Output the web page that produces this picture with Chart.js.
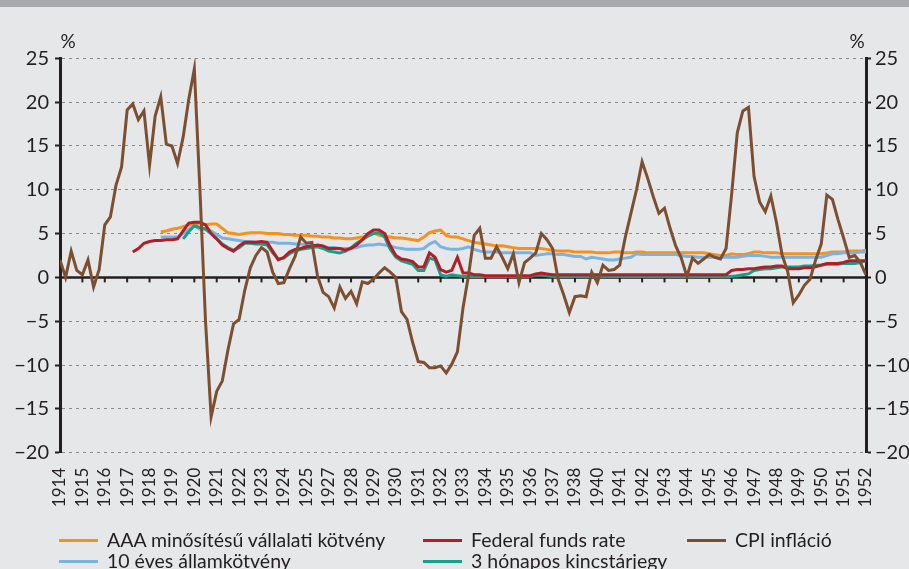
<!DOCTYPE html>
<html>
<head>
<meta charset="utf-8">
<script src="https://cdn.jsdelivr.net/npm/chart.js@4.4.1/dist/chart.umd.min.js"></script>
<style>
  html, body { margin:0; padding:0; background:#e6e7e8; }
  #wrap { position:relative; width:909px; height:569px; overflow:hidden; background:#e6e7e8; }
  #topbar { position:absolute; left:0; top:0; width:909px; height:7px; background:#a7a9ac; }
  canvas { position:absolute; left:0; top:0; }
  .pct { position:absolute; font:19px Lato, sans-serif; color:#231f20; width:30px; text-align:center; line-height:20px; }
  .leg { position:absolute; font:19.5px Lato, sans-serif; color:#231f20; white-space:nowrap; line-height:20px; height:20px; display:flex; align-items:center; }
  .leg i { display:inline-block; width:39px; height:3px; margin-right:9px; }
</style>
</head>
<body>
<div id="wrap">
  <div id="topbar"></div>
  <canvas id="c" width="909" height="569"></canvas>
  <div class="pct" style="left:53px; top:31px;">%</div>
  <div class="pct" style="left:842px; top:31px;">%</div>
  <div id="legend"></div>
</div>
<script>
// ---- tick labels (category labels on the horizontal axis) ----
const xLabels = ['1914','1915','1916','1917','1918','1919','1920','1921','1922','1923','1924','1925',
  '1927','1928','1929','1930','1931','1932','1933','1934','1935','1936','1937','1938',
  '1940','1941','1942','1943','1944','1945','1946','1947','1948','1949','1950','1951','1952'];
const yMin = -20, yMax = 25, yStep = 5;

// sampling step of the series, in axis-label units
const STEP = 0.25;

// ---- series values ----
const CPI_START = 0;
const cpi = [
  2.0, 0.0, 3.0, 0.8, 0.3, 2.0, -1.1, 0.9, 6.0, 6.9, 10.5,
  12.6, 19.1, 19.8, 18.0, 19.0, 12.8, 18.4, 20.6, 15.2, 15.0, 13.0,
  16.0, 20.3, 23.8, 10.0, -5.0, -15.9, -13.0, -11.8, -8.3, -5.3, -4.8,
  -1.5, 1.1, 2.5, 3.4, 2.9, 0.6, -0.7, -0.6, 1.0, 2.4, 4.6,
  3.9, 4.0, 0.2, -1.7, -2.2, -3.5, -1.1, -2.4, -1.6, -3.0, -0.5,
  -0.7, -0.2, 0.5, 1.1, 0.6, 0.0, -3.9, -4.8, -7.4, -9.6, -9.7,
  -10.3, -10.3, -10.1, -10.9, -9.9, -8.5, -3.5, 0.3, 4.8, 5.6, 2.2,
  2.2, 3.5, 2.3, 1.0, 2.7, -0.6, 1.7, 2.2, 2.8, 5.0, 4.3,
  3.3, -0.2, -2.0, -4.0, -2.2, -2.1, -2.2, 0.6, -0.6, 1.4, 0.8,
  0.9, 1.4, 4.6, 7.3, 10.0, 13.2, 11.3, 9.2, 7.3, 7.9, 5.6,
  3.6, 2.2, 0.1, 2.2, 1.6, 2.1, 2.6, 2.3, 2.1, 3.3, 9.5,
  16.5, 19.0, 19.4, 11.5, 8.6, 7.5, 9.3, 6.3, 2.6, 0.7, -2.9,
  -2.0, -0.9, -0.2, 2.0, 3.8, 9.4, 8.9, 6.6, 4.5, 2.3, 2.5,
  1.7, 0.3
];

const AAA_START = 18;
const aaa = [
  5.2, 5.3, 5.5, 5.6, 5.8, 6.0, 6.1, 6.2, 6.0, 6.1, 6.1,
  5.6, 5.1, 5.0, 4.9, 5.0, 5.1, 5.1, 5.1, 5.0, 5.0, 5.0,
  4.9, 4.9, 4.8, 4.8, 4.8, 4.7, 4.7, 4.6, 4.6, 4.5, 4.5,
  4.4, 4.4, 4.5, 4.6, 4.8, 5.1, 4.8, 4.7, 4.6, 4.5, 4.5,
  4.4, 4.3, 4.2, 4.6, 5.1, 5.3, 5.4, 4.8, 4.6, 4.6, 4.4,
  4.2, 4.0, 3.9, 3.8, 3.7, 3.6, 3.6, 3.5, 3.4, 3.3, 3.3,
  3.3, 3.3, 3.3, 3.2, 3.1, 3.0, 3.0, 3.0, 2.9, 2.9, 2.9,
  2.9, 2.8, 2.8, 2.8, 2.9, 2.9, 2.8, 2.8, 2.9, 2.9, 2.8,
  2.8, 2.8, 2.8, 2.8, 2.8, 2.8, 2.8, 2.8, 2.8, 2.8, 2.7,
  2.6, 2.5, 2.5, 2.7, 2.6, 2.6, 2.7, 2.9, 2.9, 2.8, 2.8,
  2.8, 2.7, 2.7, 2.7, 2.7, 2.7, 2.7, 2.7, 2.7, 2.8, 2.9,
  2.9, 2.9, 3.0, 3.0, 3.0, 3.1
];

const BOND10_START = 18;
const bond10 = [
  4.6, 4.6, 4.6, 4.6, 5.0, 5.5, 5.9, 5.5, 5.6, 5.3, 4.9,
  4.5, 4.4, 4.3, 4.2, 4.1, 4.1, 4.0, 4.0, 4.0, 4.0, 3.9,
  3.9, 3.9, 3.8, 3.8, 3.7, 3.7, 3.6, 3.5, 3.4, 3.4, 3.3,
  3.3, 3.3, 3.4, 3.6, 3.7, 3.7, 3.8, 3.7, 3.6, 3.4, 3.3,
  3.2, 3.2, 3.2, 3.3, 3.8, 4.1, 3.5, 3.3, 3.2, 3.2, 3.3,
  3.5, 3.2, 3.0, 2.9, 2.9, 2.9, 2.8, 2.8, 2.8, 2.8, 2.8,
  2.8, 2.5, 2.6, 2.7, 2.7, 2.6, 2.6, 2.5, 2.4, 2.4, 2.1,
  2.3, 2.2, 2.1, 2.0, 2.0, 2.1, 2.2, 2.3, 2.7, 2.6, 2.6,
  2.6, 2.6, 2.6, 2.6, 2.6, 2.5, 2.4, 2.4, 2.3, 2.3, 2.3,
  2.3, 2.3, 2.3, 2.3, 2.3, 2.4, 2.5, 2.5, 2.5, 2.4, 2.3,
  2.3, 2.3, 2.3, 2.3, 2.3, 2.3, 2.3, 2.3, 2.3, 2.5, 2.7,
  2.7, 2.8, 2.8, 2.8, 2.9, 2.9
];

const FED_START = 13;
const fedFunds = [
  2.9, 3.3, 3.9, 4.1, 4.2, 4.2, 4.3, 4.3, 4.4, 5.3, 6.2,
  6.3, 6.3, 6.0, 5.0, 4.4, 3.7, 3.3, 3.0, 3.6, 4.0, 4.0,
  4.0, 4.1, 4.0, 3.0, 2.0, 2.3, 2.9, 3.2, 3.3, 3.5, 3.6,
  3.7, 3.6, 3.3, 3.3, 3.3, 3.1, 3.3, 3.7, 4.3, 5.0, 5.4,
  5.4, 5.0, 3.6, 2.5, 2.1, 2.0, 1.8, 1.2, 1.2, 2.8, 2.3,
  0.9, 0.6, 0.8, 2.3, 0.5, 0.5, 0.3, 0.3, 0.2, 0.2, 0.2,
  0.2, 0.2, 0.2, 0.2, 0.2, 0.2, 0.4, 0.5, 0.4, 0.3, 0.3,
  0.3, 0.3, 0.3, 0.3, 0.3, 0.3, 0.3, 0.3, 0.3, 0.3, 0.3,
  0.3, 0.3, 0.3, 0.3, 0.3, 0.3, 0.3, 0.3, 0.3, 0.3, 0.3,
  0.3, 0.3, 0.3, 0.3, 0.3, 0.3, 0.3, 0.3, 0.8, 0.9, 0.9,
  1.0, 1.0, 1.1, 1.2, 1.2, 1.3, 1.3, 1.0, 1.0, 1.0, 1.1,
  1.1, 1.2, 1.4, 1.6, 1.6, 1.6, 1.7, 1.9, 1.9, 1.9, 1.9
];

const TBILL_START = 22;
const tbill3m = [
  4.4, 5.2, 5.9, 5.7, 5.5, 5.0, 4.4, 3.8, 3.4, 3.1, 3.4,
  3.9, 3.9, 3.8, 3.8, 3.7, 2.8, 2.1, 2.2, 2.7, 3.0, 3.2,
  3.3, 3.4, 3.5, 3.3, 3.0, 2.9, 2.8, 3.0, 3.4, 3.9, 4.3,
  4.7, 5.0, 5.1, 4.6, 3.2, 2.3, 1.9, 1.7, 1.5, 0.8, 0.8,
  2.2, 2.0, 0.3, 0.1, 0.3, 0.2, 0.1, 0.1, 0.1, 0.1, 0.1,
  0.1, 0.1, 0.1, 0.1, 0.1, 0.1, 0.1, 0.1, 0.3, 0.3, 0.2,
  0.1, 0.1, 0.1, 0.1, 0.1, 0.1, 0.1, 0.1, 0.1, 0.1, 0.1,
  0.1, 0.1, 0.1, 0.1, 0.1, 0.1, 0.1, 0.1, 0.1, 0.1, 0.1,
  0.1, 0.1, 0.1, 0.1, 0.1, 0.1, 0.1, 0.1, 0.1, 0.1, 0.1,
  0.2, 0.3, 0.4, 0.8, 0.9, 1.0, 1.0, 1.1, 1.2, 1.2, 1.2,
  1.2, 1.3, 1.3, 1.4, 1.4, 1.5, 1.5, 1.5, 1.6, 1.6, 1.6,
  1.7, 1.9
];

const seriesNames = ['AAA minősítésű vállalati kötvény', 'Federal funds rate', 'CPI infláció',
  '10 éves államkötvény', '3 hónapos kincstárjegy'];
const colors = { aaa:'#f7911e', fed:'#b21e28', cpi:'#7d4f32', bond:'#7ab3e1', tbill:'#16a08c' };

function toPoints(values, start) {
  return values.map((v, i) => ({ x: (start + i) * STEP, y: v }));
}

// ---- legend (HTML text) ----
const legendItems = [
  { name: seriesNames[0], color: colors.aaa,   left: 59,  top: 530 },
  { name: seriesNames[1], color: colors.fed,   left: 423, top: 530 },
  { name: seriesNames[2], color: colors.cpi,   left: 687, top: 530 },
  { name: seriesNames[3], color: colors.bond,  left: 59,  top: 551 },
  { name: seriesNames[4], color: colors.tbill, left: 423, top: 551 }
];
const legendEl = document.getElementById('legend');
legendItems.forEach(it => {
  const d = document.createElement('div');
  d.className = 'leg';
  d.style.left = it.left + 'px';
  d.style.top = it.top + 'px';
  const sw = document.createElement('i');
  sw.style.background = it.color;
  d.appendChild(sw);
  d.appendChild(document.createTextNode(it.name));
  legendEl.appendChild(d);
});

const ink = '#231f20';
const zeroLine = {
  id: 'zeroLine',
  beforeDatasetsDraw(chart) {
    const { ctx, chartArea, scales } = chart;
    const y0 = scales.y.getPixelForValue(0);
    ctx.save();
    ctx.strokeStyle = ink;
    ctx.lineWidth = 2.5;
    ctx.beginPath();
    ctx.moveTo(chartArea.left, y0);
    ctx.lineTo(chartArea.right, y0);
    ctx.stroke();
    ctx.lineWidth = 2;
    scales.x.ticks.forEach(t => {
      const x = scales.x.getPixelForValue(t.value);
      ctx.beginPath();
      ctx.moveTo(x, y0);
      ctx.lineTo(x, y0 + 5);
      ctx.stroke();
    });
    ctx.restore();
  }
};

const lineDs = (label, data, color) => ({
  label, data, borderColor: color, backgroundColor: color,
  borderWidth: 3, pointRadius: 0, tension: 0, fill: false, spanGaps: false
});

const yTickFmt = v => (v < 0 ? '\u2212' + Math.abs(v) : String(v));

new Chart(document.getElementById('c'), {
  type: 'line',
  data: {
    datasets: [
      lineDs(seriesNames[2], toPoints(cpi, CPI_START), colors.cpi),
      lineDs(seriesNames[1], toPoints(fedFunds, FED_START), colors.fed),
      lineDs(seriesNames[4], toPoints(tbill3m, TBILL_START), colors.tbill),
      lineDs(seriesNames[3], toPoints(bond10, BOND10_START), colors.bond),
      lineDs(seriesNames[0], toPoints(aaa, AAA_START), colors.aaa)
    ]
  },
  options: {
    responsive: false,
    animation: false,
    devicePixelRatio: 1,
    layout: { padding: { top: 58.3, left: 0, right: 0, bottom: 0 } },
    plugins: { legend: { display: false }, tooltip: { enabled: false } },
    scales: {
      x: {
        type: 'linear', min: 0, max: xLabels.length - 1,
        grid: { display: false, drawTicks: false },
        border: { display: false },
        ticks: {
          stepSize: 1, autoSkip: false, maxRotation: 90, minRotation: 90,
          padding: 15, color: ink, font: { family: 'Lato', size: 17 },
          callback: v => xLabels[v]
        },
        afterFit: s => { s.height = 569 - 452.7; }
      },
      y: {
        position: 'left', min: yMin, max: yMax,
        grid: {
          color: c => c.tick && c.tick.value === 0 ? 'rgba(0,0,0,0)' : '#8a8a8a',
          lineWidth: 1, drawTicks: true, tickLength: 5, tickColor: ink, tickWidth: 2
        },
        border: { display: true, color: ink, width: 3, dash: [3, 4] },
        ticks: {
          stepSize: yStep, padding: 6, color: ink, font: { family: 'Lato', size: 20 },
          callback: yTickFmt
        },
        afterFit: s => { s.width = 60; }
      },
      y2: {
        position: 'right', min: yMin, max: yMax,
        grid: { drawOnChartArea: false, drawTicks: true, tickLength: 5, tickColor: ink, tickWidth: 2 },
        border: { display: true, color: ink, width: 3 },
        ticks: {
          stepSize: yStep, padding: 4, color: ink, font: { family: 'Lato', size: 20 },
          callback: yTickFmt
        },
        afterFit: s => { s.width = 909 - 866; }
      }
    }
  },
  plugins: [zeroLine]
});
</script>
</body>
</html>
